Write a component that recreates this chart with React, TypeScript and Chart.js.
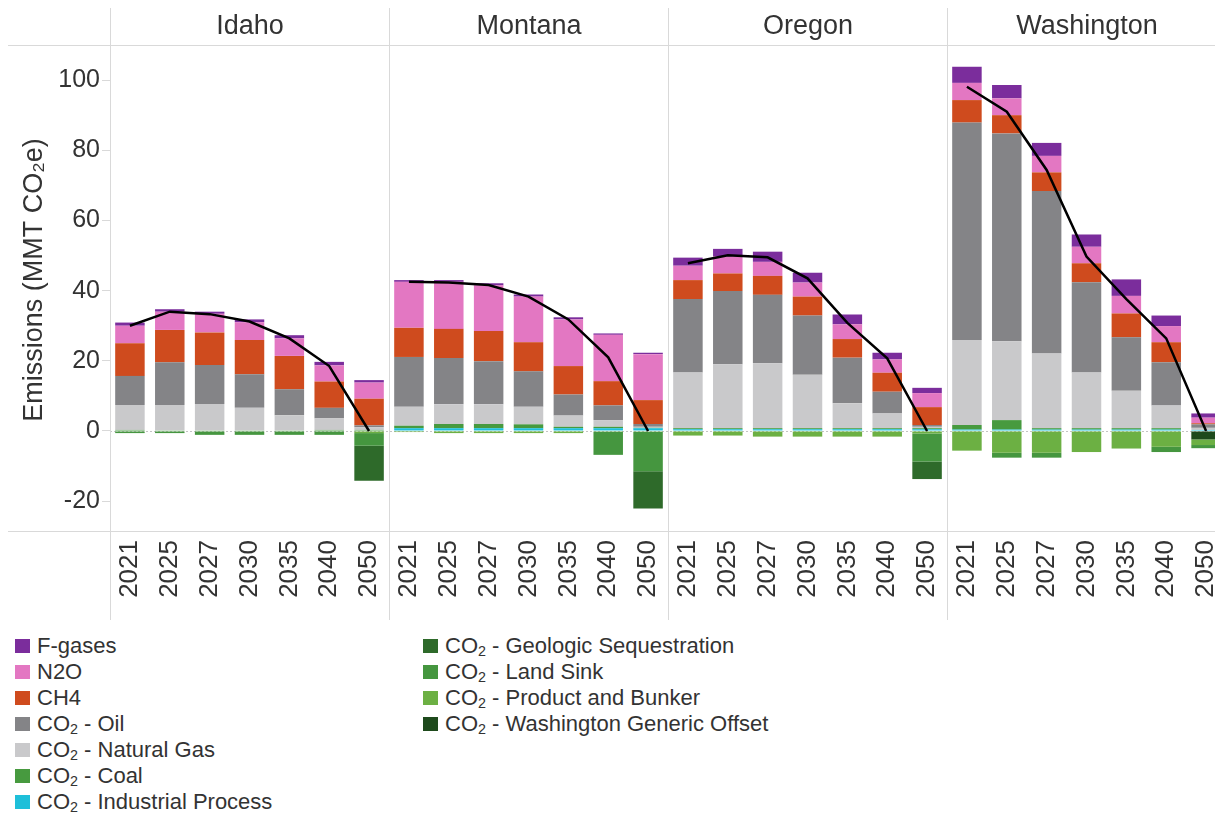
import React, { useEffect, useRef } from 'react';
import { Chart, registerables } from 'chart.js';

Chart.register(...registerables);

const FONT = "'Liberation Sans', Arial, Helvetica, sans-serif";
const TEXT = '#333333';
const LINE = '#d9d9d9';

const states = ['Idaho', 'Montana', 'Oregon', 'Washington'];
const years = ['2021', '2025', '2027', '2030', '2035', '2040', '2050'];
const yTicks = [-20, 0, 20, 40, 60, 80, 100];
const yTitle = 'Emissions (MMT CO₂e)';

// values in MMT CO2e, order: Idaho(7) | Montana(7) | Oregon(7) | Washington(7)
const industrialProcess = [
  0, 0, 0, 0, 0, 0, 0,
  0.8, 0.8, 0.8, 0.8, 0.8, 0.8, 0.8,
  0.5, 0.5, 0.5, 0.5, 0.5, 0.5, 0.5,
  0.4, 0.4, 0.4, 0.4, 0.4, 0.4, 0.3,
];
const coal = [
  0.3, 0.2, 0.2, 0.2, 0.2, 0.3, 0.3,
  0.7, 1.2, 1.2, 1.1, 0.4, 0.4, 0.1,
  0.3, 0.3, 0.3, 0.3, 0.3, 0.3, 0.3,
  1.3, 2.7, 0.4, 0.4, 0.4, 0.4, 0,
];
const naturalGas = [
  7.1, 7.2, 7.5, 6.4, 4.3, 3.3, 0.8,
  5.4, 5.6, 5.6, 5.0, 3.2, 1.9, 0.3,
  15.9, 18.2, 18.5, 15.2, 7.1, 4.2, 0.4,
  24.2, 22.5, 21.3, 15.9, 10.7, 6.5, 0.6,
];
const oil = [
  8.3, 12.2, 11.1, 9.6, 7.4, 3.0, 0.5,
  14.2, 13.2, 12.3, 10.1, 6.0, 4.2, 0.8,
  20.9, 20.9, 19.5, 16.9, 13.0, 6.2, 0.5,
  62.0, 59.2, 46.3, 25.7, 15.2, 12.3, 1.0,
];
const ch4 = [
  9.3, 9.2, 9.3, 9.7, 9.5, 7.5, 7.6,
  8.3, 8.3, 8.6, 8.3, 8.1, 6.9, 6.8,
  5.4, 5.0, 5.4, 5.4, 5.3, 5.4, 5.1,
  6.4, 5.2, 5.3, 5.4, 6.8, 5.7, 0.3,
];
const n2o = [
  5.0, 5.2, 5.3, 5.1, 5.0, 4.6, 4.6,
  13.1, 13.4, 13.0, 13.0, 13.3, 13.2, 13.1,
  4.1, 4.8, 4.0, 4.0, 4.2, 3.8, 4.0,
  4.9, 4.8, 4.7, 4.7, 5.0, 4.6, 1.6,
];
const fGases = [
  0.9, 0.7, 0.6, 0.8, 0.9, 1.0, 0.7,
  0.5, 0.5, 0.6, 0.6, 0.6, 0.4, 0.4,
  2.3, 2.2, 2.9, 2.8, 2.8, 1.9, 1.5,
  4.6, 3.8, 3.7, 3.5, 4.7, 3.0, 1.2,
];
const waGenericOffset = [
  0, 0, 0, 0, 0, 0, 0,
  0, 0, 0, 0, 0, 0, 0,
  0, 0, 0, 0, 0, 0, 0,
  0, 0, 0, 0, 0, 0, -2.4,
];
const productAndBunker = [
  0, 0, 0, 0, 0, 0, -0.6,
  -0.3, -0.6, -0.6, -0.6, -0.6, -0.2, -0.2,
  -1.3, -1.3, -1.6, -1.6, -1.6, -1.6, -0.7,
  -5.6, -6.2, -6.2, -6.0, -5.0, -4.5, -1.6,
];
const landSink = [
  -0.6, -0.6, -1.1, -1.1, -1.1, -1.1, -3.6,
  0, 0, 0, 0, 0, -6.6, -11.3,
  0, 0, 0, 0, 0, 0, -8.0,
  0, -1.4, -1.4, 0, 0, -1.5, -0.9,
];
const geologicSequestration = [
  0, 0, 0, 0, 0, 0, -10.0,
  0, 0, 0, 0, 0, 0, -10.6,
  0, 0, 0, 0, 0, 0, -5.0,
  0, 0, 0, 0, 0, 0, 0,
];
const netEmissions = [
  30.0, 34.0, 33.3, 31.2, 26.4, 18.5, 0,
  42.5, 42.3, 41.6, 38.3, 31.8, 21.0, 0,
  47.8, 50.1, 49.5, 43.5, 30.8, 20.7, 0,
  98.1, 91.0, 74.4, 49.7, 37.6, 26.4, 0,
];

const series = [
  { label: 'CO₂ - Industrial Process', data: industrialProcess, color: '#1EBFD9' },
  { label: 'CO₂ - Coal', data: coal, color: '#479A3F' },
  { label: 'CO₂ - Natural Gas', data: naturalGas, color: '#C9C9CB' },
  { label: 'CO₂ - Oil', data: oil, color: '#848487' },
  { label: 'CH4', data: ch4, color: '#CF4B1E' },
  { label: 'N2O', data: n2o, color: '#E377C2' },
  { label: 'F-gases', data: fGases, color: '#7B2D9C' },
  { label: 'CO₂ - Washington Generic Offset', data: waGenericOffset, color: '#1E4A1C' },
  { label: 'CO₂ - Product and Bunker', data: productAndBunker, color: '#6CB043' },
  { label: 'CO₂ - Land Sink', data: landSink, color: '#45963F' },
  { label: 'CO₂ - Geologic Sequestration', data: geologicSequestration, color: '#2E6A2A' },
];

const legendCol1 = ['F-gases', 'N2O', 'CH4', 'CO₂ - Oil', 'CO₂ - Natural Gas', 'CO₂ - Coal', 'CO₂ - Industrial Process'];
const legendCol2 = ['CO₂ - Geologic Sequestration', 'CO₂ - Land Sink', 'CO₂ - Product and Bunker', 'CO₂ - Washington Generic Offset'];

const panelPlugin = {
  id: 'panels',
  beforeDatasetsDraw(chart: any) {
    const { ctx, chartArea: a, scales } = chart;
    const x = scales.x;
    const y = scales.y;
    const step = x.getPixelForValue(1) - x.getPixelForValue(0);
    const line = (x1: number, y1: number, x2: number, y2: number) => {
      ctx.beginPath();
      ctx.moveTo(x1, y1);
      ctx.lineTo(x2, y2);
      ctx.stroke();
    };
    ctx.save();
    ctx.lineWidth = 1;
    // zero line
    ctx.strokeStyle = '#c4c4c4';
    ctx.setLineDash([2, 2]);
    const y0 = Math.round(y.getPixelForValue(0)) + 0.5;
    line(a.left, y0, a.right, y0);
    ctx.setLineDash([]);
    ctx.strokeStyle = LINE;
    const top = Math.round(a.top) + 0.5;
    const bot = Math.round(a.bottom) + 0.5;
    line(0, top, chart.width, top);
    line(0, bot, chart.width, bot);
    ctx.fillStyle = TEXT;
    ctx.font = `27px ${FONT}`;
    ctx.textAlign = 'center';
    ctx.textBaseline = 'middle';
    states.forEach((s, i) => {
      const px = Math.round(x.getPixelForValue(i * years.length) - step / 2) + 0.5;
      line(px, 0, px, chart.height);
      ctx.fillText(s, px + (step * years.length) / 2, a.top / 2);
    });
    // y-axis title
    ctx.save();
    ctx.translate(27, 272);
    ctx.rotate(-Math.PI / 2);
    ctx.font = `27px ${FONT}`;
    ctx.fillText(yTitle, 0, 0);
    ctx.restore();
    ctx.restore();
  },
};

function LegendItem({ text, color }: { text: string; color: string }) {
  const parts = text.split('₂');
  return (
    <div style={{ display: 'flex', alignItems: 'center', height: 26, whiteSpace: 'nowrap' }}>
      <span style={{ display: 'inline-block', width: 15, height: 14, background: color, marginRight: 7, flex: 'none' }} />
      <span>
        {parts.length > 1 ? (
          <>
            {parts[0]}
            <span style={{ fontSize: '0.65em', position: 'relative', top: '0.25em' }}>2</span>
            {parts[1]}
          </>
        ) : (
          text
        )}
      </span>
    </div>
  );
}

export default function App() {
  const ref = useRef<HTMLCanvasElement | null>(null);

  useEffect(() => {
    if (!ref.current) return;
    const labels = states.flatMap(() => years);
    const datasets: any[] = series.map((s) => ({
      type: 'bar',
      label: s.label,
      data: s.data,
      backgroundColor: s.color,
      borderWidth: 0,
      stack: 'e',
      order: 1,
      barPercentage: 0.74,
      categoryPercentage: 1,
    }));
    datasets.push({
      type: 'line',
      label: 'Net',
      data: netEmissions,
      borderColor: '#000',
      borderWidth: 2.5,
      pointRadius: 0,
      tension: 0,
      stack: 'net',
      order: 0,
      segment: {
        borderColor: (c: any) => (c.p0DataIndex % years.length === years.length - 1 ? 'rgba(0,0,0,0)' : '#000'),
      },
    });
    const chart = new Chart(ref.current, {
      type: 'bar',
      data: { labels, datasets },
      options: {
        responsive: false,
        animation: false,
        devicePixelRatio: 1,
        layout: { padding: { top: 37, right: 2, left: 0, bottom: 0 } },
        plugins: { legend: { display: false }, tooltip: { enabled: false } },
        scales: {
          x: {
            stacked: true,
            grid: { display: false, drawTicks: false },
            border: { display: false },
            afterFit: (s: any) => {
              s.height = 89;
              s.paddingLeft = 0;
              s.paddingRight = 0;
            },
            ticks: {
              autoSkip: false,
              minRotation: 90,
              maxRotation: 90,
              padding: 9,
              color: TEXT,
              font: { family: FONT, size: 26 },
            },
          },
          y: {
            stacked: true,
            min: -28.5,
            max: 110,
            afterFit: (s: any) => {
              s.width = 102;
              s.paddingTop = 0;
              s.paddingBottom = 0;
            },
            afterBuildTicks: (s: any) => { s.ticks = yTicks.map((v) => ({ value: v })); },
            grid: { display: true, drawOnChartArea: false, drawTicks: true, tickLength: 8, color: LINE },
            border: { display: false },
            ticks: { color: TEXT, padding: 2, font: { family: FONT, size: 25 } },
            title: { display: false },
          },
        },
      } as any,
      plugins: [panelPlugin],
    });
    return () => chart.destroy();
  }, []);

  return (
    <div
      style={{
        position: 'fixed',
        left: 0,
        top: 0,
        width: 1215,
        height: 813,
        overflow: 'hidden',
        fontFamily: FONT,
        color: TEXT,
        background: '#fff',
      }}
    >
      <canvas
        ref={ref}
        width={1220}
        height={612}
        style={{ position: 'absolute', left: 8, top: 8, display: 'block' }}
      />
      <div style={{ position: 'absolute', left: 15, top: 632.7, fontSize: 22 }}>
        {legendCol1.map((t) => (
          <LegendItem key={t} text={t} color={series.find((s) => s.label === t)!.color} />
        ))}
      </div>
      <div style={{ position: 'absolute', left: 423, top: 632.7, fontSize: 22 }}>
        {legendCol2.map((t) => (
          <LegendItem key={t} text={t} color={series.find((s) => s.label === t)!.color} />
        ))}
      </div>
    </div>
  );
}
